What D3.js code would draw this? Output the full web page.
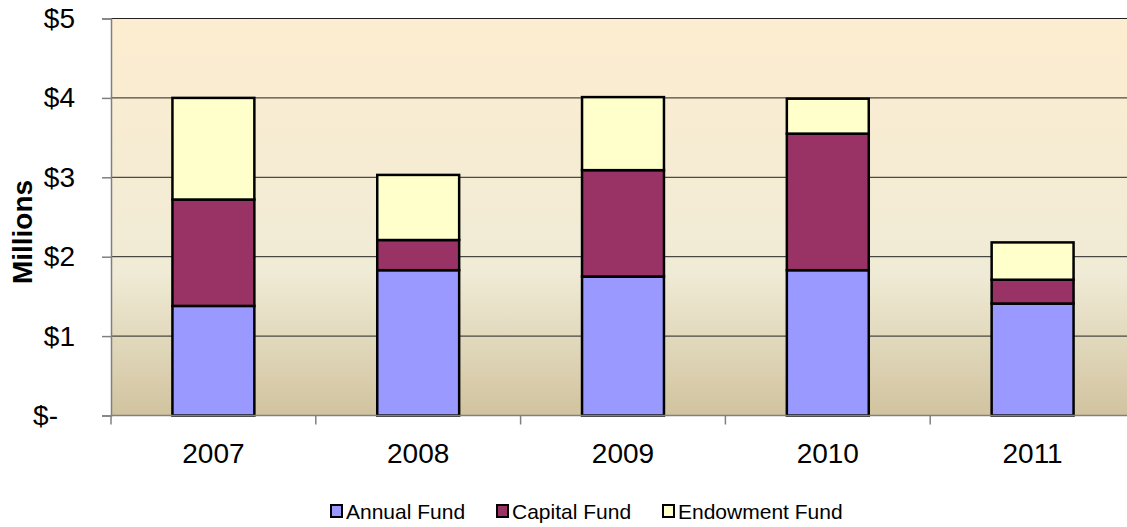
<!DOCTYPE html>
<html>
<head>
<meta charset="utf-8">
<script src="https://cdn.jsdelivr.net/npm/d3@7"></script>
<style>
  html, body { margin: 0; padding: 0; background: #fff; }
  svg { display: block; font-family: Arial, "Liberation Sans", sans-serif; }
</style>
</head>
<body>
<svg id="chart" width="1127" height="527"></svg>
<script>
// Fundraising totals by year, in millions of dollars
const years = ["2007", "2008", "2009", "2010", "2011"];
const annualFund = [1.38, 1.83, 1.75, 1.83, 1.41];
const capitalFund = [1.34, 0.38, 1.34, 1.72, 0.30];
const endowmentFund = [1.28, 0.82, 0.92, 0.44, 0.47];
const seriesNames = ["Annual Fund", "Capital Fund", "Endowment Fund"];
const yTicks = [0, 1, 2, 3, 4, 5];

const colors = ["#9999FF", "#993366", "#FFFFCC"];

const rows = years.map((y, i) => ({
  year: y,
  "Annual Fund": annualFund[i],
  "Capital Fund": capitalFund[i],
  "Endowment Fund": endowmentFund[i]
}));
const stacked = d3.stack().keys(seriesNames)(rows);

const svg = d3.select("#chart");
const plot = { left: 111, right: 1135, top: 18.5, bottom: 415.5 };

const x = d3.scaleBand()
  .domain(years)
  .range([plot.left, plot.right])
  .paddingInner(0.6)
  .paddingOuter(0.3);

const y = d3.scaleLinear()
  .domain([0, 5])
  .range([plot.bottom, plot.top]);

// Parchment-style gradient background for the plot area
const defs = svg.append("defs");
const grad = defs.append("linearGradient")
  .attr("id", "parchment")
  .attr("x1", 0).attr("y1", 0).attr("x2", 0).attr("y2", 1);
grad.append("stop").attr("offset", "0%").attr("stop-color", "#FDEDD0");
grad.append("stop").attr("offset", "64%").attr("stop-color", "#F0EBD6");
grad.append("stop").attr("offset", "100%").attr("stop-color", "#D1C39F");

svg.append("rect")
  .attr("x", plot.left)
  .attr("y", plot.top)
  .attr("width", plot.right - plot.left)
  .attr("height", plot.bottom - plot.top)
  .attr("fill", "url(#parchment)");

// Horizontal gridlines
svg.append("g")
  .selectAll("line")
  .data(yTicks.filter(d => d > 0))
  .join("line")
  .attr("x1", plot.left)
  .attr("x2", plot.right)
  .attr("y1", d => y(d))
  .attr("y2", d => y(d))
  .attr("stroke", "#222")
  .attr("stroke-width", 1);

// Stacked bars
svg.append("g")
  .selectAll("g")
  .data(stacked)
  .join("g")
  .attr("fill", (d, i) => colors[i])
  .selectAll("rect")
  .data(d => d)
  .join("rect")
  .attr("x", d => x(d.data.year))
  .attr("width", x.bandwidth())
  .attr("y", d => y(d[1]))
  .attr("height", d => y(d[0]) - y(d[1]))
  .attr("stroke", "#000")
  .attr("stroke-width", 2.5);

// Y axis
const yAxis = d3.axisLeft(y)
  .tickValues(yTicks)
  .tickSize(9)
  .tickPadding(27)
  .tickFormat(d => d === 0 ? "$-" : "$" + d);

const gy = svg.append("g")
  .attr("transform", `translate(${plot.left},0)`)
  .call(yAxis);
gy.select(".domain").attr("stroke", "#808080").attr("stroke-width", 1.5);
gy.selectAll(".tick line").attr("stroke", "#808080").attr("stroke-width", 1.5);
gy.selectAll(".tick text")
  .attr("font-size", 28)
  .attr("fill", "#000")
  .attr("font-family", "Arial, 'Liberation Sans', sans-serif")
  .attr("dx", d => d === 0 ? -17 : 0);

// X axis with ticks on category boundaries
const gx = svg.append("g")
  .attr("transform", `translate(0,${plot.bottom})`);
gx.append("line")
  .attr("x1", plot.left).attr("x2", plot.right)
  .attr("y1", 0).attr("y2", 0)
  .attr("stroke", "#808080").attr("stroke-width", 1.5);
const boundaries = d3.range(years.length + 1).map(i => plot.left + i * x.step());
gx.selectAll(".bt")
  .data(boundaries)
  .join("line")
  .attr("x1", d => d).attr("x2", d => d)
  .attr("y1", 0).attr("y2", 9)
  .attr("stroke", "#808080").attr("stroke-width", 1.5);
gx.selectAll("text")
  .data(years)
  .join("text")
  .attr("x", d => x(d) + x.bandwidth() / 2)
  .attr("y", 47)
  .attr("text-anchor", "middle")
  .attr("font-size", 28)
  .attr("fill", "#000")
  .text(d => d);

// Y axis title
svg.append("text")
  .attr("transform", "translate(32,232) rotate(-90)")
  .attr("text-anchor", "middle")
  .attr("font-size", 28)
  .attr("font-weight", "bold")
  .attr("fill", "#000")
  .text("Millions");

// Legend
const legendX = [331, 497, 663];
const legend = svg.append("g");
const items = legend.selectAll("g")
  .data(seriesNames)
  .join("g")
  .attr("transform", (d, i) => `translate(${legendX[i]},505)`);
items.append("rect")
  .attr("x", 0).attr("y", 0)
  .attr("width", 11).attr("height", 12)
  .attr("fill", (d, i) => colors[i])
  .attr("stroke", "#000")
  .attr("stroke-width", 2);
items.append("text")
  .attr("x", 15)
  .attr("y", 14)
  .attr("font-size", 21)
  .attr("fill", "#000")
  .text(d => d);
</script>
</body>
</html>
